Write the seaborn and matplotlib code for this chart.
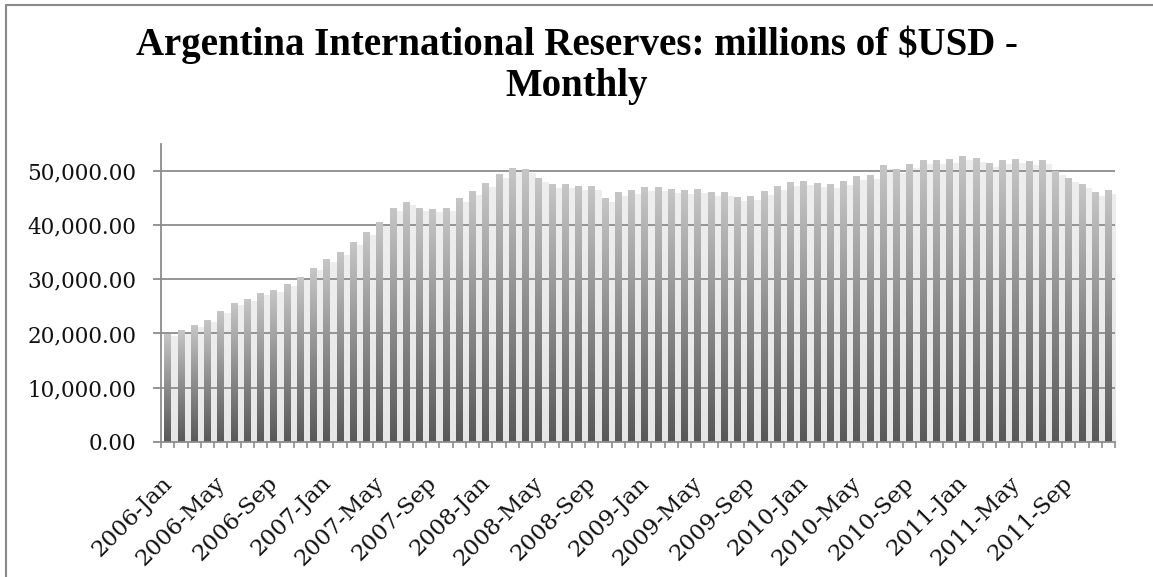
import numpy as np
import pandas as pd
import matplotlib
matplotlib.use("Agg")
import matplotlib.pyplot as plt
import matplotlib.transforms as mtransforms
from matplotlib.colors import LinearSegmentedColormap
from matplotlib.lines import Line2D
from matplotlib.ticker import FuncFormatter, FixedLocator
import seaborn as sns

# Monthly reserves, millions of USD, Jan 2006 - Dec 2011
months = pd.date_range("2006-01-01", periods=72, freq="MS")
month_labels = [d.strftime("%Y-%b") for d in months]
reserves = [
    19800, 20630, 21550, 22480, 24140, 25620, 26350, 27460, 28020, 29130, 30480, 32080,
    33740, 35040, 36880, 38730, 40640, 43170, 44270, 43170, 42980, 43170, 45010, 46310,
    47780, 49450, 50550, 50370, 48710, 47600, 47600, 47230, 47230, 45010, 46120, 46490,
    47040, 47040, 46670, 46490, 46670, 46120, 46120, 45200, 45380, 46310, 47230, 47970,
    48150, 47780, 47600, 48150, 49080, 49260, 51110, 50370, 51290, 52030, 52030, 52220,
    52770, 52400, 51480, 52030, 52220, 51850, 52030, 50000, 48710, 47600, 46120, 46490,
]
y_ticks = [0, 10000, 20000, 30000, 40000, 50000]
label_step = 4
title = "Argentina International Reserves: millions of $USD -\nMonthly"

sns.set_theme(style="white")
plt.rcParams["font.family"] = ["DejaVu Serif"]

W, H, DPI = 1153, 577, 100
fig = plt.figure(figsize=(W / DPI, H / DPI), dpi=DPI)
fig.patch.set_facecolor("white")

left, right, bottom, top = 161, 1115, 441.7, 144
ax = fig.add_axes([left / W, 1 - bottom / H, (right - left) / W, (bottom - top) / H])

df = pd.DataFrame({"month": month_labels, "reserves": reserves})
sns.barplot(data=df, x="month", y="reserves", color="#8a8a8a", width=0.5,
            saturation=1, ax=ax, zorder=3)

grid_color = "#8c8c8c"
cmap = LinearSegmentedColormap.from_list("bar_fill", ["#585858", "#8c8c8c", "#c6c6c6"])
ramp = np.linspace(0, 1, 256).reshape(-1, 1)
shadow_cmap = LinearSegmentedColormap.from_list("shadow", ["#e6e6e6", "#eeeeee"])

bars = list(ax.patches)
for p in bars:
    x0, w, h = p.get_x(), p.get_width(), p.get_height()
    # soft drop shadow filling the gap to the right of each bar
    ax.imshow(ramp, cmap=shadow_cmap, origin="lower", aspect="auto",
              extent=(x0 + w, x0 + 2 * w, 0, h * 0.985), zorder=0.3,
              interpolation="bilinear")
    # vertical gradient fill of the bar itself
    ax.imshow(ramp, cmap=cmap, origin="lower", aspect="auto",
              extent=(x0, x0 + w, 0, h), zorder=3, interpolation="bilinear")
    p.set_facecolor("none")
    p.set_edgecolor("none")

ax.set_xlim(-0.5, len(reserves) - 0.5)
ax.set_ylim(0, 55000)
ax.set_xlabel("")
ax.set_ylabel("")

# horizontal gridlines
ax.set_yticks(y_ticks)
ax.yaxis.set_major_formatter(FuncFormatter(lambda v, _: f"{v:,.2f}"))
for v in y_ticks[1:]:
    ax.axhline(v, color=grid_color, lw=1.3, zorder=0.5)

for side in ["top", "right"]:
    ax.spines[side].set_visible(False)
for side in ["left", "bottom"]:
    ax.spines[side].set_color(grid_color)
    ax.spines[side].set_linewidth(1.3)
    ax.spines[side].set_zorder(4)

ax.tick_params(axis="y", direction="out", length=5.8, width=1.3, color=grid_color,
               pad=12, labelsize=15.5, labelcolor="#111111", left=True)

# x labels every fourth month, tick marks at category boundaries
label_pos = list(range(0, len(month_labels), label_step))
ax.set_xticks(label_pos)
ax.set_xticklabels([month_labels[i] for i in label_pos])
ax.xaxis.set_minor_locator(FixedLocator(np.arange(-0.5, len(reserves), 1.0)))
ax.tick_params(axis="x", which="major", length=0, pad=0, labelsize=16.5,
               labelcolor="#111111", bottom=True)
ax.tick_params(axis="x", which="minor", direction="out", length=4.5, width=1.2,
               color=grid_color, bottom=True)
offset = mtransforms.ScaledTranslation(1 / DPI, -38 / DPI, fig.dpi_scale_trans)
for lbl in ax.get_xticklabels():
    lbl.set_rotation(45)
    lbl.set_ha("right")
    lbl.set_va("center")
    lbl.set_rotation_mode("anchor")
    lbl.set_transform(lbl.get_transform() + offset)

fig.text(0.5, 1 - 26 / H, title, ha="center", va="top", fontsize=28,
         fontweight="bold", family=["Liberation Serif"], linespacing=1.13,
         color="black")

# outer chart frame
frame_kw = dict(color="#8a8a8a", lw=1.5, transform=fig.transFigure)
fig.add_artist(Line2D([5.5 / W, 5.5 / W], [1 - 4.5 / H, 0], **frame_kw))
fig.add_artist(Line2D([5.5 / W, 1], [1 - 4.5 / H, 1 - 4.5 / H], **frame_kw))

fig.savefig("out.png", dpi=DPI)
